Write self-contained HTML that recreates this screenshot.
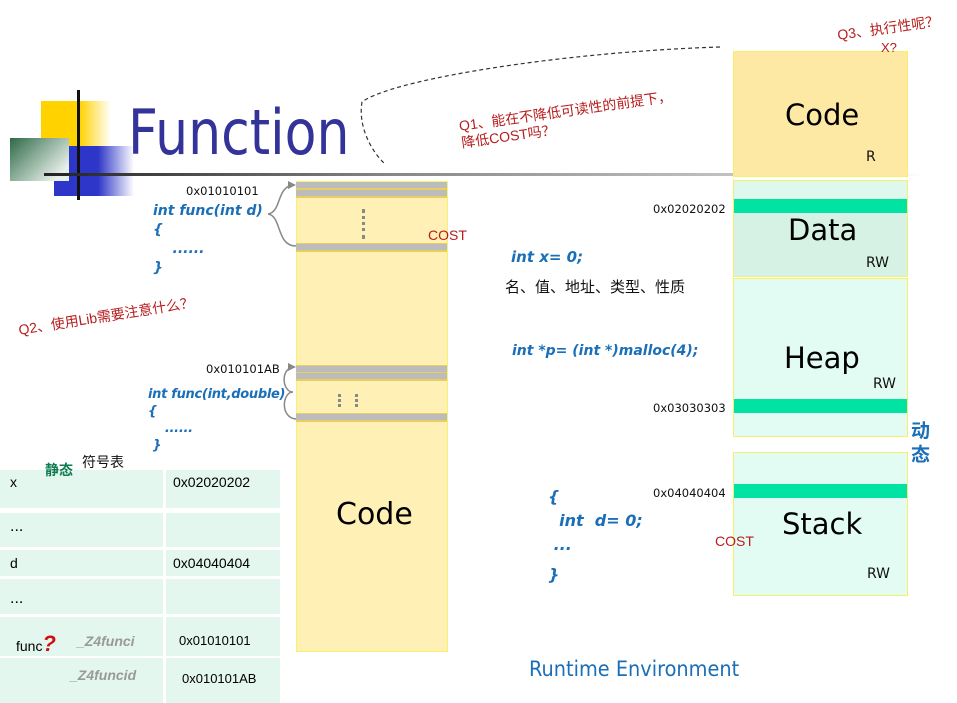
<!DOCTYPE html>
<html><head><meta charset="utf-8"><style>
body{margin:0;width:957px;height:703px;position:relative;overflow:hidden;background:#fff;font-family:"Liberation Sans","Noto Sans CJK SC",sans-serif}
.a{position:absolute;white-space:nowrap}
.code{color:#1a6fb8;font-style:italic;font-weight:bold;font-family:"DejaVu Sans","Noto Sans CJK SC",sans-serif;font-size:14px}
.red{color:#b81c1c}
.addr{font-family:"DejaVu Sans",sans-serif;font-size:11.5px;color:#111}
.big{font-family:"DejaVu Sans",sans-serif;font-size:30px;color:#000}
.sm{font-family:"DejaVu Sans",sans-serif;font-size:14px;color:#111}
.tr{position:absolute;left:0;width:280px;background:#e3f7ee}
.tc{position:absolute;left:163px;width:3px;top:470px;height:233px;background:#fff}
</style></head><body>
<!-- logo -->
<div class="a" style="left:41px;top:101px;width:70px;height:48px;background:linear-gradient(90deg,#ffd200 55%,#fff)"></div>
<div class="a" style="left:54px;top:146px;width:80px;height:50px;background:linear-gradient(90deg,#2d36c8 55%,#fff)"></div>
<div class="a" style="left:10px;top:138px;width:59px;height:43px;background:linear-gradient(135deg,#2e6a48,#e8f0ea 85%)"></div>
<div class="a" style="left:77px;top:90px;width:3px;height:110px;background:#111"></div>
<div class="a" style="left:44px;top:173px;width:880px;height:3px;background:linear-gradient(90deg,#222,#888 40%,#ccc 85%,#fff)"></div>
<div class="a" style="left:128px;top:96px;font-family:'DejaVu Sans',sans-serif;font-size:62px;color:#333399;transform:scaleX(0.84);transform-origin:0 0">Function</div>
<!-- dashed curve & braces -->
<svg class="a" style="left:0;top:0" width="957" height="703">
<path d="M720,47 C560,52 390,80 362,102 C358,125 370,150 385,164" fill="none" stroke="#333" stroke-width="1.2" stroke-dasharray="4,3"/>
<path d="M268,214 C282,212 276,186 294,185" fill="none" stroke="#888" stroke-width="1.5"/>
<path d="M268,214 C282,216 276,246 296,246" fill="none" stroke="#888" stroke-width="1.5"/>
<polygon points="296,185 288,181 288,189" fill="#888"/>
<path d="M293,392 C282,392 280,368 294,367" fill="none" stroke="#888" stroke-width="1.5"/>
<path d="M293,392 C282,392 280,418 296,419" fill="none" stroke="#888" stroke-width="1.5"/>
<polygon points="296,367 288,363 288,371" fill="#888"/>
</svg>
<!-- code column -->
<div class="a" style="left:296px;top:181px;width:150px;height:469px;background:#fff0b5;border:1px solid #f7f26a"></div>
<div class="a" style="left:296px;top:182px;width:151px;height:6px;background:#bcbcbc;border-bottom:2px solid #e6cf60"></div>
<div class="a" style="left:296px;top:190px;width:151px;height:6px;background:#bcbcbc;border-bottom:2px solid #e6cf60"></div>
<div class="a" style="left:296px;top:243px;width:151px;height:6px;background:#bcbcbc;border-bottom:2px solid #e6cf60;border-top:1px solid #e6cf60"></div>
<div class="a" style="left:362px;top:209px;width:0;height:30px;border-left:3px dotted #888"></div>
<div class="a" style="left:296px;top:365px;width:151px;height:6px;background:#bcbcbc;border-bottom:2px solid #e6cf60;border-top:1px solid #e6cf60"></div>
<div class="a" style="left:296px;top:373px;width:151px;height:6px;background:#bcbcbc;border-bottom:2px solid #e6cf60"></div>
<div class="a" style="left:296px;top:413px;width:151px;height:6px;background:#bcbcbc;border-bottom:2px solid #e6cf60;border-top:1px solid #e6cf60"></div>
<div class="a" style="left:338px;top:394px;width:0;height:13px;border-left:3px dotted #888"></div>
<div class="a" style="left:355px;top:394px;width:0;height:13px;border-left:3px dotted #888"></div>
<div class="a big" style="left:336px;top:497px">Code</div>
<!-- left code texts -->
<div class="a addr" style="left:186px;top:184px">0x01010101</div>
<div class="a code" style="left:153px;top:202px;line-height:19px">int func(int d)<br>{<br>&nbsp;&nbsp;&nbsp;&nbsp;......<br>}</div>
<div class="a red" style="left:428px;top:227px;font-size:14px">COST</div>
<div class="a red" style="left:17px;top:320px;font-size:14px;transform:rotate(-9deg);transform-origin:0 0">Q2、使用Lib需要注意什么？</div>
<div class="a addr" style="left:206px;top:362px">0x010101AB</div>
<div class="a code" style="left:148px;top:386px;line-height:17px;font-size:13px;letter-spacing:-0.3px">int func(int,double)<br>{<br>&nbsp;&nbsp;&nbsp;&nbsp;......<br>&nbsp;}</div>
<!-- table -->
<div class="tr" style="top:470px;height:38px"></div>
<div class="tr" style="top:513px;height:34px"></div>
<div class="tr" style="top:550px;height:26px"></div>
<div class="tr" style="top:579px;height:35px"></div>
<div class="tr" style="top:617px;height:39px"></div>
<div class="tr" style="top:658px;height:45px"></div>
<div class="tc"></div>
<div class="a" style="left:82px;top:452px;font-size:14px;color:#111">符号表</div>
<div class="a" style="left:45px;top:460px;font-size:14px;font-weight:bold;color:#0e7a50">静态</div>
<div class="a" style="left:10px;top:474px;font-size:14px">x</div>
<div class="a" style="left:173px;top:474px;font-size:14px">0x02020202</div>
<div class="a" style="left:10px;top:518px;font-size:16px">...</div>
<div class="a" style="left:10px;top:555px;font-size:14px">d</div>
<div class="a" style="left:173px;top:555px;font-size:14px">0x04040404</div>
<div class="a" style="left:10px;top:590px;font-size:16px">...</div>
<div class="a" style="left:16px;top:631px;font-size:14px">func<span style="color:#d01010;font-weight:bold;font-style:italic;font-size:22px">?</span></div>
<div class="a" style="left:77px;top:633px;font-size:14px;font-weight:bold;font-style:italic;color:#999">_Z4funci</div>
<div class="a" style="left:179px;top:633px;font-size:13px">0x01010101</div>
<div class="a" style="left:70px;top:667px;font-size:14px;font-weight:bold;font-style:italic;color:#999">_Z4funcid</div>
<div class="a" style="left:182px;top:671px;font-size:13px">0x010101AB</div>
<!-- middle -->
<div class="a red" style="left:458px;top:118px;font-size:14px;line-height:17px;transform:rotate(-8deg);transform-origin:0 0">Q1、能在不降低可读性的前提下，<br>降低COST吗？</div>
<div class="a code" style="left:511px;top:248px;font-size:15px">int x= 0;</div>
<div class="a" style="left:505px;top:276px;font-size:15px;color:#111">名、值、地址、类型、性质</div>
<div class="a code" style="left:512px;top:343px">int *p= (int *)malloc(4);</div>
<div class="a code" style="left:548px;top:485px;font-size:16px;line-height:24px">{<br>&nbsp;&nbsp;int&nbsp; d= 0;<br>&nbsp;...</div>
<div class="a code" style="left:548px;top:565px;font-size:16px">}</div>
<div class="a" style="left:529px;top:657px;font-family:'DejaVu Sans',sans-serif;font-size:21px;color:#1a6fb8;transform:scaleX(0.92);transform-origin:0 0">Runtime Environment</div>
<!-- right column -->
<div class="a red" style="left:836px;top:25px;font-size:14px;transform:rotate(-8deg);transform-origin:0 0">Q3、执行性呢？</div>
<div class="a" style="left:733px;top:51px;width:173px;height:124px;background:#fde8a4;border:1px solid #f5f06a"></div>
<div class="a red" style="left:881px;top:40px;font-size:13px">X?</div>
<div class="a big" style="left:785px;top:98px;font-size:29px">Code</div>
<div class="a sm" style="left:866px;top:149px">R</div>
<div class="a" style="left:733px;top:180px;width:173px;height:95px;background:#d6f2e4;border:1px solid #f5f06a"></div>
<div class="a" style="left:734px;top:181px;width:173px;height:17px;background:#def8ee"></div>
<div class="a" style="left:734px;top:199px;width:173px;height:14px;background:#00e3a2"></div>
<div class="a addr" style="left:653px;top:202px">0x02020202</div>
<div class="a big" style="left:788px;top:213px;font-size:29px">Data</div>
<div class="a sm" style="left:866px;top:255px">RW</div>
<div class="a" style="left:733px;top:278px;width:173px;height:157px;background:#e2fcf4;border:1px solid #f5f06a"></div>
<div class="a big" style="left:784px;top:341px;font-size:29px">Heap</div>
<div class="a sm" style="left:873px;top:376px">RW</div>
<div class="a" style="left:734px;top:399px;width:173px;height:14px;background:#00e3a2"></div>
<div class="a addr" style="left:653px;top:401px">0x03030303</div>
<div class="a" style="left:911px;top:420px;font-size:19px;font-weight:bold;color:#1a6fb8;line-height:24px">动<br>态</div>
<div class="a" style="left:733px;top:452px;width:173px;height:142px;background:#e2fcf4;border:1px solid #f5f06a"></div>
<div class="a" style="left:734px;top:484px;width:173px;height:14px;background:#00e3a2"></div>
<div class="a addr" style="left:653px;top:486px">0x04040404</div>
<div class="a big" style="left:782px;top:507px;font-size:29px">Stack</div>
<div class="a sm" style="left:867px;top:566px">RW</div>
<div class="a red" style="left:715px;top:533px;font-size:14px">COST</div>
</body></html>
